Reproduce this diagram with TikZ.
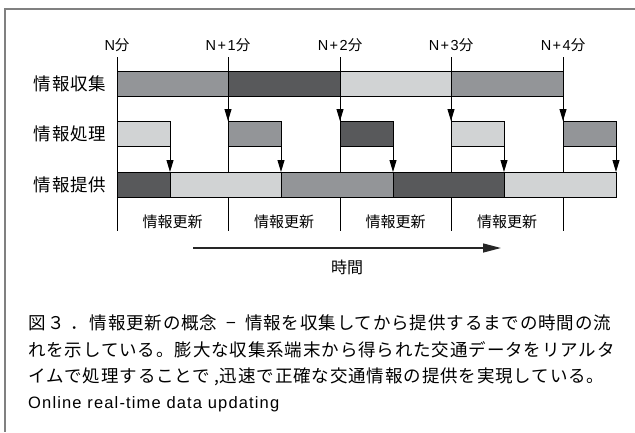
\documentclass[tikz,border=0pt]{standalone}
\usepackage{fontspec}
\setmainfont{Liberation Sans}
\newfontfamily\cjk{Noto Sans CJK JP}
\newfontfamily\cjkw[LetterSpace=5]{Noto Sans CJK JP}
\newfontfamily\engl[LetterSpace=7]{Liberation Sans}
\usetikzlibrary{arrows.meta}
\definecolor{dk}{HTML}{58595B}
\definecolor{md}{HTML}{939598}
\definecolor{lt}{HTML}{D1D3D4}
\definecolor{frm}{HTML}{808080}
\begin{document}
\begin{tikzpicture}[x=1pt,y=-1pt,
  bar/.style={draw=black,line width=0.9pt,minimum height=25.5pt,inner sep=0pt,outer sep=0pt,anchor=north west},
  tick/.style={draw=black,line width=0.9pt},
  arr/.style={draw=black,line width=0.9pt,-{Triangle[length=12pt,width=7pt]}},
  tarr/.style={draw=black!85,line width=1.4pt,-{Triangle[length=18pt,width=9pt]}},
  ticklab/.style={font=\fontsize{14.5}{16}\selectfont,inner sep=0pt},
  rowlab/.style={font=\cjkw\fontsize{17.5}{20}\selectfont,inner sep=0pt},
  updlab/.style={font=\cjk\fontsize{15}{17}\selectfont,inner sep=0pt},
  caplab/.style={font=\cjkw\fontsize{17.5}{20}\selectfont,inner sep=0pt,anchor=west},
  englab/.style={font=\engl\fontsize{16.5}{18}\selectfont,inner sep=0pt,anchor=west}]
\useasboundingbox (0,0) rectangle (635,432);
\draw[frm,line width=1.3pt] (635,9) -- (5,9) -- (5,432);
% ticks
\foreach \i/\x in {0/117,1/228,2/340,3/451,4/563}{
  \coordinate (t\i) at (\x,57);
  \coordinate (b\i) at (\x,231);
}
\foreach \i in {0,...,4}{\draw[tick] (t\i) -- (b\i);}
% tick labels
\node[ticklab] (l0) at (117,45) {N{\cjk 分}};
\node[ticklab] (l1) at (228,45) {N\kern1.5pt+\kern1.5pt1{\cjk 分}};
\node[ticklab] (l2) at (340,45) {N\kern1.5pt+\kern1.5pt2{\cjk 分}};
\node[ticklab] (l3) at (451,45) {N\kern1.5pt+\kern1.5pt3{\cjk 分}};
\node[ticklab] (l4) at (563,45) {N\kern1.5pt+\kern1.5pt4{\cjk 分}};
% row labels
\node[rowlab] (lc) at (70,84) {情報収集};
\node[rowlab] (lp) at (70,134) {情報処理};
\node[rowlab] (lv) at (70,185) {情報提供};
% collect bar
\node[bar,fill=md,minimum width=111pt] (c1) at (117,71) {};
\node[bar,fill=dk,minimum width=112pt] (c2) at (228,71) {};
\node[bar,fill=lt,minimum width=111pt] (c3) at (340,71) {};
\node[bar,fill=md,minimum width=112pt] (c4) at (451,71) {};
% processing boxes
\node[bar,fill=lt,minimum width=53pt] (p1) at (117,121) {};
\node[bar,fill=md,minimum width=53pt] (p2) at (228,121) {};
\node[bar,fill=dk,minimum width=53pt] (p3) at (340,121) {};
\node[bar,fill=lt,minimum width=53pt] (p4) at (451,121) {};
\node[bar,fill=md,minimum width=53pt] (p5) at (563,121) {};
% provision bar
\node[bar,fill=dk,minimum width=53pt] (v1) at (117,172) {};
\node[bar,fill=lt,minimum width=111pt] (v2) at (170,172) {};
\node[bar,fill=md,minimum width=112pt] (v3) at (281,172) {};
\node[bar,fill=dk,minimum width=111pt] (v4) at (393,172) {};
\node[bar,fill=lt,minimum width=112pt] (v5) at (504,172) {};
% arrows collect -> processing
\draw[arr] (c1.south east) -- (p2.north west);
\draw[arr] (c2.south east) -- (p3.north west);
\draw[arr] (c3.south east) -- (p4.north west);
\draw[arr] (c4.south east) -- (p5.north west);
% arrows processing -> provision
\draw[arr] (p1.south east) -- (v2.north west);
\draw[arr] (p2.south east) -- (v3.north west);
\draw[arr] (p3.south east) -- (v4.north west);
\draw[arr] (p4.south east) -- (v5.north west);
\draw[arr] (p5.south east) -- (v5.north east);
% update labels
\node[updlab] (u1) at (172.5,222) {情報更新};
\node[updlab] (u2) at (284,222) {情報更新};
\node[updlab] (u3) at (395.5,222) {情報更新};
\node[updlab] (u4) at (507,222) {情報更新};
% time arrow
\coordinate (ta) at (193,248);
\coordinate (tb) at (501,248);
\draw[tarr] (ta) -- (tb);
\node[updlab,font=\cjk\fontsize{16}{18}\selectfont] (tm) at (347,267) {時間};
% caption
\node[caplab] (cap1) at (28,323) {図\kern2pt３\kern5pt．\kern2pt情報更新の概念\kern9pt−\kern9pt情報を収集してから提供するまでの時間の流};
\node[caplab] (cap2) at (28,350) {れを示している。膨大な収集系端末から得られた交通データをリアルタ};
\node[caplab] (cap3) at (28,377) {イムで処理することで\kern4pt,迅速で正確な交通情報の提供を実現している。};
\node[englab] (cap4) at (28,404) {Online real-time data updating};
\end{tikzpicture}
\end{document}
